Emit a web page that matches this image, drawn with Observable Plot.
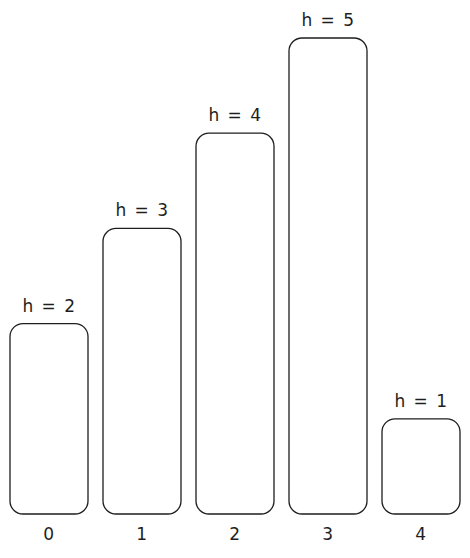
<!DOCTYPE html>
<html>
<head>
<meta charset="utf-8">
<script src="https://cdn.jsdelivr.net/npm/d3@7"></script>
<script src="https://cdn.jsdelivr.net/npm/@observablehq/plot@0.6"></script>
<style>
  html, body { margin: 0; padding: 0; background: #fff; }
  #chart svg { display: block; }
  #chart svg text { letter-spacing: 1.5px; }
</style>
</head>
<body>
<div id="chart"></div>
<script>
const indices = ["0", "1", "2", "3", "4"];
const heights = [2, 3, 4, 5, 1];
const labels = heights.map(h => `h = ${h}`);

const data = indices.map((i, k) => ({ i, h: heights[k], label: labels[k] }));

const chart = Plot.plot({
  width: 470,
  height: 558,
  marginLeft: 9,
  marginRight: 9,
  marginTop: 38,
  marginBottom: 44,
  style: { fontFamily: "'DejaVu Sans', sans-serif", fontSize: "17px", color: "#1e1e1e", background: "#fff" },
  x: { domain: indices, paddingInner: 0.16, paddingOuter: 0, label: null },
  y: { domain: [0, 5], axis: null },
  marks: [
    Plot.barY(data, { x: "i", y: "h", fill: "#fff", stroke: "#1e1e1e", strokeWidth: 1.3, rx: 13 }),
    Plot.text(data, { x: "i", y: "h", text: "label", dy: -18, fontSize: 17, fill: "#1e1e1e" }),
    Plot.axisX({ tickSize: 0, tickPadding: 13, fontSize: 17, label: null })
  ]
});
document.getElementById("chart").appendChild(chart);
</script>
</body>
</html>
